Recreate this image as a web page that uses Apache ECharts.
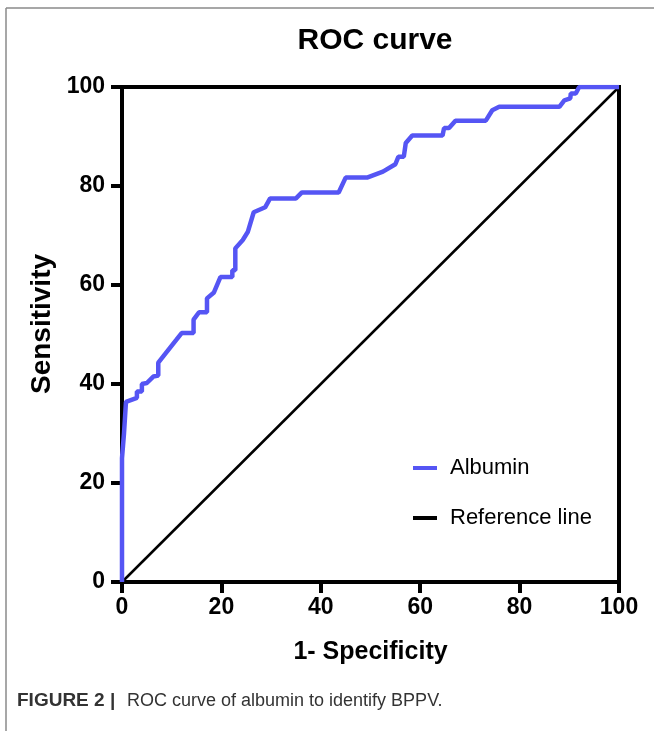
<!DOCTYPE html>
<html>
<head>
<meta charset="utf-8">
<script src="https://cdn.jsdelivr.net/npm/echarts@6/dist/echarts.min.js"></script>
<style>
html,body{margin:0;padding:0;background:#fff;}
#chart{width:654px;height:731px;}
</style>
</head>
<body>
<div id="chart"></div>
<script>
// ROC curve points: [1-specificity, sensitivity]
var rocX = [0, 0, 0.4, 0.8, 3, 3, 4, 4, 5, 6.3, 7.3, 7.3, 11, 12, 14.4, 14.4, 15.5, 17.1, 17.1, 18.5, 19.8, 22.2, 22.2, 22.8, 22.8, 24.3, 25.3, 26.5, 28.8, 29.8, 35, 36.2, 43.6, 45, 49.3, 52.5, 55, 55.6, 56.7, 57.1, 58.4, 64.5, 64.8, 65.8, 67.1, 73.2, 74.5, 75.9, 88, 89, 90.2, 90.3, 91.3, 92, 100];
var rocY = [0, 25, 30, 36.4, 37.2, 38.5, 38.5, 40, 40.2, 41.5, 41.7, 44.3, 49, 50.3, 50.3, 53, 54.5, 54.5, 57.3, 58.5, 61.6, 61.6, 63, 63, 67.4, 69.1, 70.7, 74.7, 75.7, 77.5, 77.5, 78.7, 78.7, 81.7, 81.7, 82.9, 84.4, 85.9, 85.9, 88.7, 90.2, 90.2, 91.7, 91.7, 93.2, 93.2, 95.3, 96, 96, 97.3, 97.7, 98.7, 98.7, 100, 100];
var refX = [0, 100];
var refY = [0, 100];
var ticks = [0, 20, 40, 60, 80, 100];

var fontFam = 'Liberation Sans, Arial, Helvetica, sans-serif';

function pairs(xs, ys) {
	var out = [];
	for (var i = 0; i < xs.length; i++) {
		out.push([xs[i], ys[i]]);
	}
	return out;
}

var chart = echarts.init(document.getElementById('chart'));

var axisCommon = {
	type: 'value',
	min: ticks[0],
	max: ticks[ticks.length - 1],
	interval: 20,
	nameLocation: 'middle',
	nameTextStyle: { fontFamily: fontFam, fontWeight: 'bold', fontSize: 25, color: '#000' },
	axisLine: { show: true, lineStyle: { color: '#000', width: 4 } },
	axisTick: { show: true, length: 11, lineStyle: { color: '#000', width: 4 } },
	axisLabel: { fontFamily: fontFam, fontWeight: 'bold', fontSize: 23, color: '#000' },
	splitLine: { show: false }
};

var option = {
	backgroundColor: '#fff',
	animation: false,
	title: {
		text: 'ROC curve',
		left: 370,
		top: 21,
		textAlign: 'center',
		textStyle: { fontFamily: fontFam, fontWeight: 'bold', fontSize: 30, color: '#000' }
	},
	grid: {
		left: 122,
		right: 35,
		top: 87,
		bottom: 149,
		show: true,
		borderColor: '#000',
		borderWidth: 4,
		backgroundColor: 'transparent'
	},
	legend: {
		orient: 'vertical',
		left: 408,
		top: 452,
		itemWidth: 24,
		itemHeight: 4,
		itemGap: 28,
		icon: 'rect',
		textStyle: { fontFamily: fontFam, fontSize: 22, color: '#000', padding: [0, 0, 0, 8] },
		data: ['Albumin', 'Reference line']
	},
	xAxis: Object.assign({}, axisCommon, {
		name: '1- Specificity',
		nameGap: 58,
		axisLabel: Object.assign({}, axisCommon.axisLabel, { margin: 14 })
	}),
	yAxis: Object.assign({}, axisCommon, {
		axisLabel: Object.assign({}, axisCommon.axisLabel, { margin: 17 })
	}),
	series: [
		{
			name: 'Reference line',
			type: 'line',
			data: pairs(refX, refY),
			symbol: 'none',
			lineStyle: { color: '#000', width: 2.5 },
			itemStyle: { color: '#000' }
		},
		{
			name: 'Albumin',
			type: 'line',
			data: pairs(rocX, rocY),
			symbol: 'none',
			lineStyle: { color: '#5555f4', width: 4.5 },
			itemStyle: { color: '#5555f4' },
			z: 3
		}
	],
	graphic: [
		// page frame (top + left edges)
		{ type: 'line', shape: { x1: 6, y1: 8, x2: 654, y2: 8 }, style: { stroke: '#8a8a8a', lineWidth: 1.5 } },
		{ type: 'line', shape: { x1: 6, y1: 8, x2: 6, y2: 731 }, style: { stroke: '#8a8a8a', lineWidth: 1.5 } },
		// y axis title (sits a bit above the plot centre in the original)
		{
			type: 'text', x: 42, y: 324, rotation: Math.PI / 2,
			style: { text: 'Sensitivity', fontFamily: fontFam, fontWeight: 'bold', fontSize: 28, fill: '#000', align: 'center', verticalAlign: 'middle' }
		},
		// caption
		{
			type: 'text', left: 17, top: 691,
			style: { text: 'FIGURE 2 |', fontFamily: fontFam, fontWeight: 'bold', fontSize: 19, fill: '#333' }
		},
		{
			type: 'text', left: 127, top: 692,
			style: { text: 'ROC curve of albumin to identify BPPV.', fontFamily: fontFam, fontSize: 18, fill: '#333' }
		}
	]
};

chart.setOption(option);
</script>
</body>
</html>
